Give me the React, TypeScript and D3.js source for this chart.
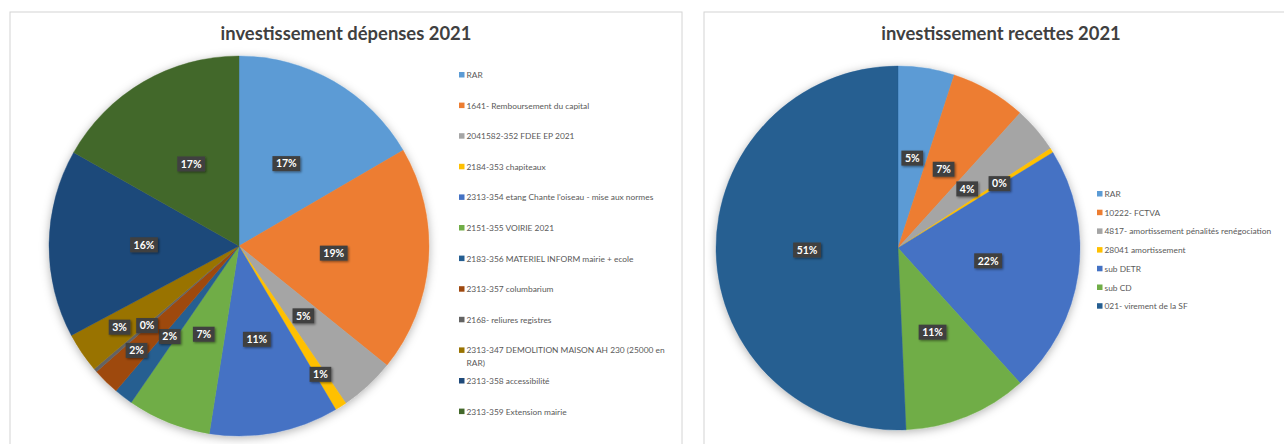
import * as d3 from 'd3'

// investissement dépenses 2021 (in %)
const depensesLabels = [
  'RAR',
  '1641- Remboursement du capital',
  '2041582-352 FDEE EP 2021',
  '2184-353 chapiteaux',
  "2313-354 etang Chante l'oiseau - mise aux normes",
  '2151-355 VOIRIE 2021',
  '2183-356 MATERIEL INFORM mairie + ecole',
  '2313-357 columbarium',
  '2168- reliures registres',
  '2313-347 DEMOLITION MAISON AH 230 (25000 en RAR)',
  '2313-358 accessibilité',
  '2313-359 Extension mairie',
]
const depensesValues = [16.6, 19.2, 4.7, 1.0, 11.0, 7.1, 1.6, 2.3, 0.3, 3.4, 16.0, 16.8]

// investissement recettes 2021
const recettesLabels = [
  'RAR',
  '10222- FCTVA',
  '4817- amortissement pénalités renégociation',
  '28041 amortissement',
  'sub DETR',
  'sub CD',
  '021- virement de la SF',
]
const recettesValues = [5.0, 6.7, 4.1, 0.4, 22.1, 11.0, 50.7]

const depensesColors = [
  '#5B9BD5', '#ED7D31', '#A5A5A5', '#FFC000', '#4472C4', '#70AD47',
  '#255E91', '#9E480E', '#636363', '#997300', '#1F4A7A', '#43682B',
]
const recettesColors = ['#5B9BD5', '#ED7D31', '#A5A5A5', '#FFC000', '#4472C4', '#70AD47', '#255E91']

const FONT = 'Lato, "Open Sans", sans-serif'
const LEGEND_SIZE = 8.4

let ctx: CanvasRenderingContext2D | null = null
function textWidth(text: string, size: number, weight = 'normal') {
  if (!ctx) ctx = document.createElement('canvas').getContext('2d')
  if (!ctx) return text.length * size * 0.5
  ctx.font = `${weight} ${size}px Lato`
  return ctx.measureText(text).width
}

// Excel wrapped this one legend entry; keep its line break (number of words on line 1)
function splitLines(text: string, wordsOnFirst?: number) {
  if (!wordsOnFirst) return [text]
  const words = text.split(' ')
  return [words.slice(0, wordsOnFirst).join(' '), words.slice(wordsOnFirst).join(' ')]
}

interface PieProps {
  title: string
  labels: string[]
  values: number[]
  colors: string[]
  cx: number
  cy: number
  r: number
  titleX: number
  legendX: number
  legendY: number
  legendStep: number
  legendBreaks: Record<number, number>
  labelPull: Record<number, number>
}

function Pie(p: PieProps) {
  const total = d3.sum(p.values)
  const arcs = d3.pie<number>().sort(null).value(d => d)(p.values)
  const arc = d3.arc<d3.PieArcDatum<number>>().innerRadius(0).outerRadius(p.r)
  const fmt = (v: number) => Math.round((v / total) * 100) + '%'

  return (
    <g>
      <text x={p.titleX} y={40} textAnchor="middle" fontFamily={FONT} fontWeight="bold"
        fontSize={18.4} fill="#404040">{p.title}</text>

      <g transform={`translate(${p.cx},${p.cy})`}>
        <g filter="url(#pieShadow)">
          {arcs.map((a, i) => (
            <path key={i} d={arc(a) || ''} fill={p.colors[i]} stroke={p.colors[i]} strokeWidth={0.4} />
          ))}
        </g>
        {arcs.map((a, i) => {
          const mid = (a.startAngle + a.endAngle) / 2
          const k = p.labelPull[i] ?? 0.5
          const x = Math.sin(mid) * p.r * k
          const y = -Math.cos(mid) * p.r * k
          const t = fmt(a.data)
          const w = textWidth(t, 10.5, 'bold') + 7
          return (
            <g key={i} transform={`translate(${x},${y})`}>
              <rect x={-w / 2} y={-7.5} width={w} height={15} fill="#404040" filter="url(#boxShadow)" />
              <text y={3.8} textAnchor="middle" fontFamily={FONT} fontWeight="bold" fontSize={10.5}
                fill="#fff">{t}</text>
            </g>
          )
        })}
      </g>

      <g fontFamily={FONT} fontSize={LEGEND_SIZE} fill="#595959">
        {p.labels.map((l, i) => {
          const y = p.legendY + i * p.legendStep
          const lines = splitLines(l, p.legendBreaks[i])
          return (
            <g key={i}>
              <rect x={p.legendX} y={y - 3} width={5.5} height={5.5} fill={p.colors[i]} />
              <text x={p.legendX + 7.5} y={y + 3}>
                {lines.map((ln, j) => (
                  <tspan key={j} x={p.legendX + 7.5} dy={j === 0 ? 0 : 12.5}>{ln}</tspan>
                ))}
              </text>
            </g>
          )
        })}
      </g>
    </g>
  )
}

export default function App() {
  return (
    <svg width={1284} height={444} style={{ position: 'absolute', left: 0, top: 0, background: '#fff' }}>
      <defs>
        <filter id="pieShadow" x="-15%" y="-15%" width="130%" height="130%">
          <feDropShadow dx={0} dy={2} stdDeviation={5} floodColor="#000" floodOpacity={0.3} />
        </filter>
        <filter id="boxShadow" x="-30%" y="-30%" width="160%" height="180%">
          <feDropShadow dx={1.2} dy={1.2} stdDeviation={0.8} floodColor="#000" floodOpacity={0.45} />
        </filter>
      </defs>

      <rect x={10} y={12} width={672} height={440} fill="#fff" stroke="#d4d4d4" />
      <rect x={704} y={12} width={600} height={440} fill="#fff" stroke="#d4d4d4" />

      <Pie title="investissement dépenses 2021" labels={depensesLabels} values={depensesValues}
        colors={depensesColors} cx={239} cy={246} r={190} titleX={346}
        legendX={459} legendY={75} legendStep={30.6} legendBreaks={{ 9: 7 }}
        labelPull={{ 3: 0.8, 6: 0.6, 7: 0.77, 8: 0.64, 9: 0.76 }} />

      <Pie title="investissement recettes 2021" labels={recettesLabels} values={recettesValues}
        colors={recettesColors} cx={898} cy={248} r={182} titleX={1001}
        legendX={1097} legendY={194} legendStep={18.7} legendBreaks={{}}
        labelPull={{ 3: 0.66 }} />
    </svg>
  )
}
